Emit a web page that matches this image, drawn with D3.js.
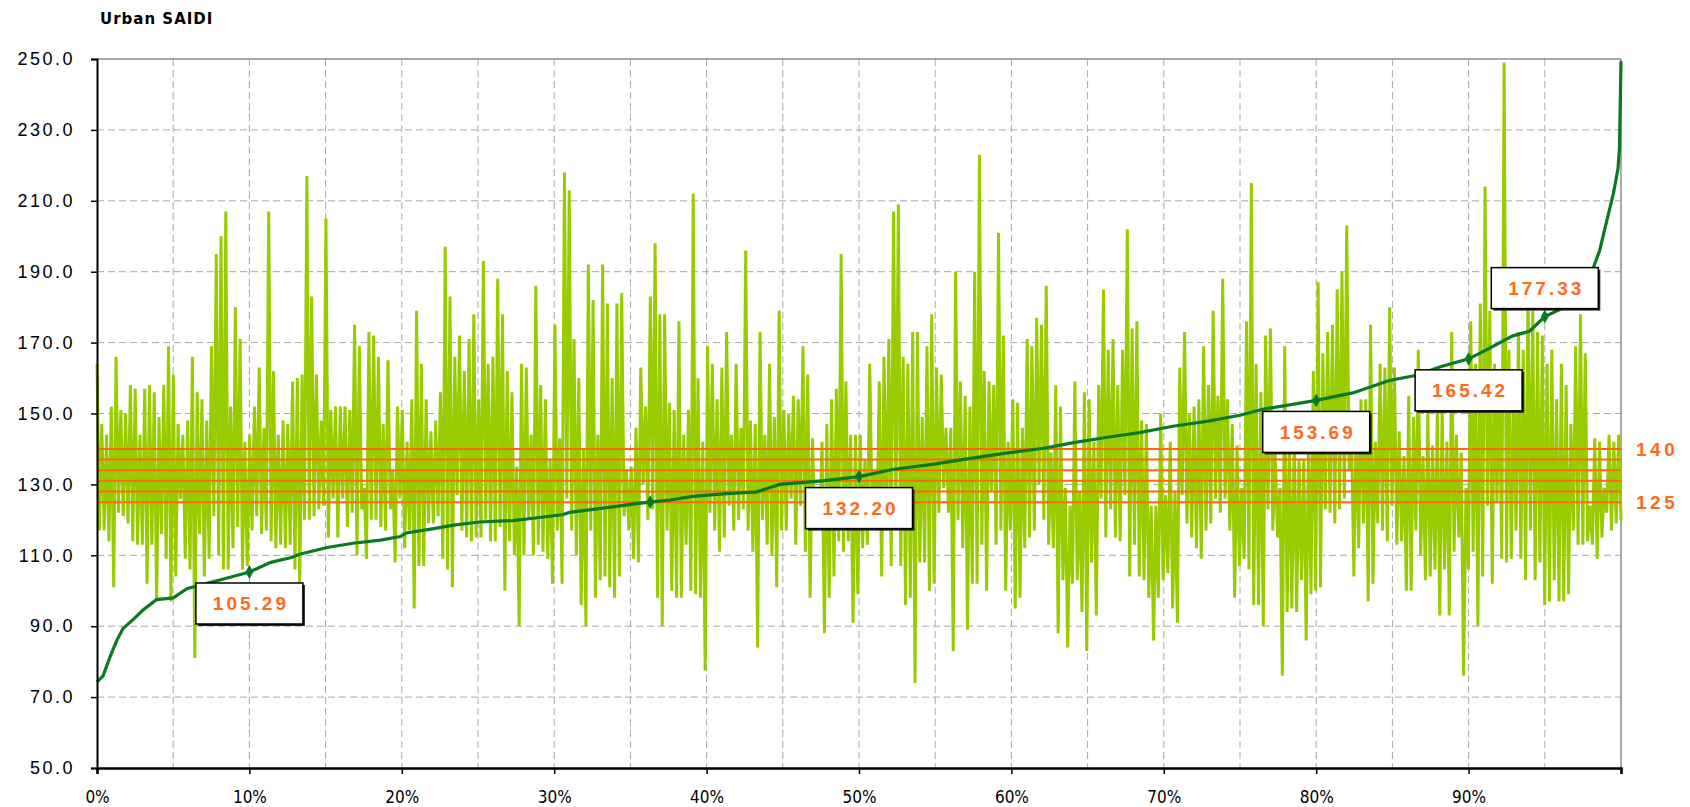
<!DOCTYPE html>
<html>
<head>
<meta charset="utf-8">
<script src="https://cdn.jsdelivr.net/npm/d3@7"></script>
<style>
    body { margin: 0; background: #fff; }
    svg { display: block; }
</style>
</head>
<body>
<script>
// Urban SAIDI per feeder, in original (unsorted) order
const saidi = [
    164,117,147,117,144,114,152,101,166,122,151,121,150,119,158,114,157,113,144,113,
    157,102,158,113,156,97,149,116,158,109,169,97,161,104,147,126,144,109,148,106,
    166,81,156,116,154,104,148,109,169,121,195,110,200,106,207,106,152,112,180,118,
    171,106,142,107,144,117,152,121,163,116,146,117,207,114,162,112,144,113,148,112,
    147,113,159,106,160,101,161,120,217,120,183,121,161,123,148,124,205,115,151,126,
    152,115,152,126,152,118,151,122,175,110,169,123,129,109,173,120,172,120,166,118,
    147,117,165,123,134,108,152,126,151,112,142,117,154,95,179,107,164,107,154,119,
    145,119,148,121,156,109,197,106,183,101,166,127,172,117,162,115,171,114,178,115,
    154,115,193,120,164,114,166,114,188,118,178,100,162,114,156,110,135,90,164,110,
    163,120,144,110,186,113,158,111,154,109,137,102,175,117,143,102,218,126,213,117,
    171,110,160,96,140,90,192,117,182,98,144,103,192,104,181,101,160,98,181,104,
    184,121,134,117,135,109,146,108,163,130,152,120,183,123,198,98,178,90,178,117,
    153,100,151,98,176,98,144,113,151,100,212,99,160,98,142,77.5,169,122,164,117,
    154,111,163,115,173,124,144,117,164,120,146,123,196,117,148,111,147,84,173,120,
    144,113,164,110,149,101,179,117,151,117,150,126,155,113,154,124,169,111,161,98,
    143,117,129,118,142,88,147,98,154,104,157,114,195,111,159,114,144,91,144,99,
    144,112,137,113,164,122,134,117,159,104,166,117,171,107,207,122,209,107,166,96,
    164,98,173,74,173,108,149,108,169,100,178,102,163,122,161,129,146,122,146,83,
    190,120,159,112,155,89,152,102,190,102,223,113,162,100,159,128,158,113,201,117,
    172,100,142,117,154,95,153,98,146,112,171,115,169,117,177,130,175,120,186,113,
    139,112,158,88,152,103,129,84,124,102,159,103,128,94,156,83,154,108,142,93,
    158,126,185,115,168,123,171,115,158,114,168,127,202,104,174,113,176,104,148,103,
    147,98,124,86,124,98,150,103,127,105,142,95,128,91,163,127,173,119,150,115,
    152,112,154,109,169,117,158,119,179,126,155,122,188,126,154,117,147,98,141,107,
    129,109,176,106,215,96,164,96,156,90,172,123,174,117,139,115,129,76,169,94,
    139,95,144,94,137,103,137,86,143,99,162,100,187,101,167,123,173,122,175,119,
    185,123,190,126,203,134,144,104,149,112,154,119,154,97,175,102,142,119,164,117,
    163,114,180,124,163,113,145,114,138,100,155,100,149,117,168,110,138,103,151,104,
    141,106,151,93,152,106,142,93,173,111,144,115,139,76,129,106,176,111,164,90,
    181,104,214,124,179,102,164,125,162,109,249,108,168,109,159,117,173,109,168,103,
    185,117,179,103,173,108,172,96,164,97,168,103,154,97,164,97,158,99,147,117,
    169,113,178,113,167,114,124,113,143,109,142,115,129,122,144,117,142,119,144,120
];

// percentile curve (percent of feeders, SAIDI)
const pctX = [0, 0.4, 0.85, 1.3, 1.7, 2.4, 3.0, 3.9, 5.0, 5.9, 6.6, 8.3, 10, 11.4, 12.7, 13.3,
    15.1, 16.8, 18.6, 19.9, 20.3, 21.9, 23.4, 25.1, 27.3, 28.9, 30.6, 31, 33.7, 35.4, 36.3,
    37.6, 39.1, 41.3, 43.3, 44.8, 47.6, 50, 52.2, 54.9, 57.1, 59.3, 62.1, 64, 66.3, 68.4,
    70.6, 72.8, 75, 76.5, 80, 82.4, 84.8, 86.6, 88.1, 90, 91.2, 92.9, 94, 95, 96.2, 97,
    98, 98.6, 99.1, 99.5, 99.8, 99.9, 100];
const pctVal = [74.3, 76, 81.3, 86, 89.3, 92, 94.5, 97.5, 98, 100.6, 101.4, 103.3, 105.29, 108, 109.3, 110.3,
    112.2, 113.4, 114.3, 115.3, 116.3, 117.4, 118.5, 119.4, 119.8, 120.6, 121.5, 122.1, 123.6, 124.6, 125.0,
    125.6, 126.6, 127.4, 127.9, 130.0, 131.0, 132.20, 134.2, 135.7, 137.2, 138.6, 140.2, 141.7, 143.3, 144.6,
    146.4, 147.8, 149.5, 151.2, 153.69, 155.8, 159.3, 160.8, 163.1, 165.42, 168.0, 171.9, 173.2, 177.33, 179.8, 183,
    189, 196, 205, 212, 219, 224.8, 249.4];

const markPct = [10, 36.3, 50, 80, 90, 95];
const markVal = [105.29, 125.0, 132.20, 153.69, 165.42, 177.33];
const labelPct = [10, 50, 80, 90, 95];
const labelVal = [105.29, 132.20, 153.69, 165.42, 177.33];
const labelText = ["105.29", "132.20", "153.69", "165.42", "177.33"];

const bandLines = [125, 128, 131, 134, 137, 140];
const bandLabelVal = [140, 125];
const bandLabelText = ["140", "125"];

const yTicks = [50, 70, 90, 110, 130, 150, 170, 190, 210, 230, 250];
const yGrid = [70, 90, 110, 130, 150, 170, 190, 210, 230];
const xTicks = [0, 10, 20, 30, 40, 50, 60, 70, 80, 90, 100];
const xTickLabels = ["0%", "10%", "20%", "30%", "40%", "50%", "60%", "70%", "80%", "90%", ""];
const xGrid = [5, 10, 15, 20, 25, 30, 35, 40, 45, 50, 55, 60, 65, 70, 75, 80, 85, 90, 95];

const width = 1690;
const height = 807;
const plotLeft = 97, plotRight = 1621, plotTop = 59, plotBottom = 768;

const svg = d3.select("body")
    .append("svg")
    .attr("width", width)
    .attr("height", height);

const x = d3.scaleLinear().domain([0, 100]).range([plotLeft, plotRight]);
const y = d3.scaleLinear().domain([50, 250]).range([plotBottom, plotTop]);

// title
svg.append("text")
    .attr("x", 100)
    .attr("y", 24)
    .attr("font-family", "DejaVu Sans, sans-serif")
    .attr("font-weight", "bold")
    .attr("font-size", 15)
    .attr("letter-spacing", 1)
    .text("Urban SAIDI");

// grid
svg.append("g")
    .selectAll("line")
    .data(yGrid)
    .enter()
    .append("line")
    .attr("x1", plotLeft).attr("x2", plotRight)
    .attr("y1", (d) => y(d)).attr("y2", (d) => y(d))
    .attr("stroke", "#a8a8a8")
    .attr("stroke-dasharray", "7,4");

svg.append("g")
    .selectAll("line")
    .data(xGrid)
    .enter()
    .append("line")
    .attr("x1", (d) => x(d)).attr("x2", (d) => x(d))
    .attr("y1", plotTop).attr("y2", plotBottom)
    .attr("stroke", "#a8a8a8")
    .attr("stroke-dasharray", "7,4");

// plot frame (top and right)
svg.append("line")
    .attr("x1", plotLeft).attr("x2", plotRight)
    .attr("y1", plotTop).attr("y2", plotTop)
    .attr("stroke", "#8c8c8c").attr("stroke-width", 1.5);
svg.append("line")
    .attr("x1", plotRight).attr("x2", plotRight)
    .attr("y1", plotTop).attr("y2", plotBottom)
    .attr("stroke", "#8c8c8c").attr("stroke-width", 1.5);

// raw SAIDI series
const rawLine = d3.line()
    .x((d, i) => x(i * 100 / (saidi.length - 1)))
    .y((d) => y(d));

svg.append("path")
    .datum(saidi)
    .attr("d", rawLine)
    .attr("fill", "none")
    .attr("stroke", "#99cc00")
    .attr("stroke-width", 3)
    .attr("stroke-linejoin", "bevel");

// target band
svg.append("g")
    .selectAll("line")
    .data(bandLines)
    .enter()
    .append("line")
    .attr("x1", plotLeft).attr("x2", plotRight)
    .attr("y1", (d) => y(d)).attr("y2", (d) => y(d))
    .attr("stroke", "#ff6a00")
    .attr("stroke-width", 2);

svg.append("g")
    .selectAll("text")
    .data(bandLabelVal)
    .enter()
    .append("text")
    .attr("x", 1636)
    .attr("y", (d) => y(d))
    .attr("dy", "0.36em")
    .attr("font-family", "Liberation Sans, Arial, sans-serif")
    .attr("font-weight", "bold")
    .attr("font-size", 19)
    .attr("letter-spacing", 3.5)
    .attr("fill", "#ff6a1a")
    .text((d, i) => bandLabelText[i]);

// percentile curve
const pctLine = d3.line()
    .x((d, i) => x(pctX[i]))
    .y((d) => y(d));

svg.append("path")
    .datum(pctVal)
    .attr("d", pctLine)
    .attr("fill", "none")
    .attr("stroke", "#0a7a22")
    .attr("stroke-width", 3.2);

svg.append("g")
    .selectAll("path")
    .data(markVal)
    .enter()
    .append("path")
    .attr("d", d3.symbol().type(d3.symbolDiamond).size(55))
    .attr("transform", (d, i) => "translate(" + x(markPct[i]) + "," + y(d) + ")")
    .attr("fill", "#0a7a22");

// axes
const yAxis = d3.axisLeft(y)
    .tickValues(yTicks)
    .tickFormat(d3.format(".1f"))
    .tickSize(6)
    .tickPadding(16);
const gy = svg.append("g")
    .attr("transform", "translate(" + plotLeft + ",0)")
    .call(yAxis);
gy.select(".domain").attr("stroke", "#000").attr("stroke-width", 2);
gy.selectAll(".tick line").attr("stroke", "#000").attr("stroke-width", 1.5);
gy.selectAll(".tick text")
    .attr("font-family", "Liberation Sans, Arial, sans-serif")
    .attr("font-size", 18)
    .attr("letter-spacing", 2.5)
    .attr("fill", "#000");

const xAxis = d3.axisBottom(x)
    .tickValues(xTicks)
    .tickFormat((d, i) => xTickLabels[i])
    .tickSize(6)
    .tickPadding(17);
const gx = svg.append("g")
    .attr("transform", "translate(0," + plotBottom + ")")
    .call(xAxis);
gx.select(".domain").attr("stroke", "#000").attr("stroke-width", 2.5);
gx.selectAll(".tick line").attr("stroke", "#000").attr("stroke-width", 1.5);
gx.selectAll(".tick text")
    .attr("font-family", "Liberation Sans Narrow, DejaVu Sans Condensed, Arial, sans-serif")
    .attr("font-stretch", "condensed")
    .attr("font-size", 17)
    .attr("fill", "#000");

// value call-outs
const boxW = 107, boxH = 41;
const callout = svg.append("g")
    .selectAll("g")
    .data(labelVal)
    .enter()
    .append("g")
    .attr("transform", (d, i) => {
        const bx = x(labelPct[i]) - boxW / 2;
        const by = i === labelVal.length - 1 ? y(d) - 8 - boxH : y(d) + 11;
        return "translate(" + bx + "," + by + ")";
    });

callout.append("rect")
    .attr("x", 2).attr("y", 2)
    .attr("width", boxW).attr("height", boxH)
    .attr("fill", "#222");
callout.append("rect")
    .attr("width", boxW).attr("height", boxH)
    .attr("fill", "#fff")
    .attr("stroke", "#000")
    .attr("stroke-width", 1.5);
callout.append("text")
    .attr("x", boxW / 2 + 1.5)
    .attr("y", boxH / 2)
    .attr("dy", "0.36em")
    .attr("text-anchor", "middle")
    .attr("font-family", "Liberation Sans, Arial, sans-serif")
    .attr("font-weight", "bold")
    .attr("font-size", 19)
    .attr("letter-spacing", 3)
    .attr("fill", "#ff6a1a")
    .text((d, i) => labelText[i]);
</script>
</body>
</html>
